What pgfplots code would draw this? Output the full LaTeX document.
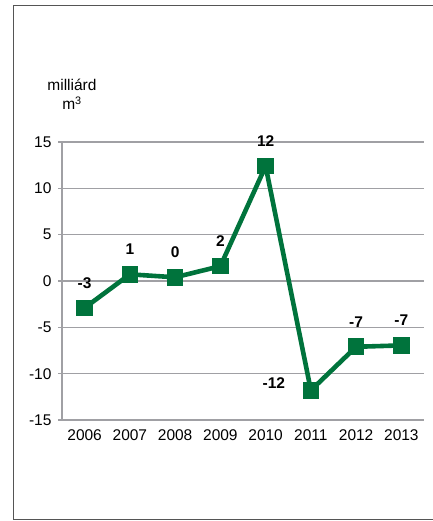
\documentclass[border=0pt]{standalone}
\usepackage{fontspec}
\setmainfont{Liberation Sans}
\usepackage{pgfplots}
\pgfplotsset{compat=1.18}
\definecolor{lgreen}{RGB}{0,115,60}
\definecolor{gridgray}{RGB}{160,160,164}
\definecolor{framegray}{RGB}{85,85,85}
\begin{document}
\begin{tikzpicture}
\useasboundingbox (0,0) rectangle (433bp,521bp);
\draw[framegray, line width=1.5bp] (433bp,515.5bp) -- (13.5bp,515.5bp) -- (13.5bp,1.5bp) -- (433bp,1.5bp);
\node[font=\fontsize{15.5bp}{17bp}\selectfont, anchor=center] at (72bp,436bp) {milliárd};
\node[font=\fontsize{15.5bp}{17bp}\selectfont, anchor=center] at (72bp,418bp) {m\textsuperscript{3}};
\begin{axis}[
  at={(62bp,101bp)}, anchor=south west,
  scale only axis, width=362bp, height=278bp,
  xmin=-0.5, xmax=7.5, ymin=-15, ymax=15,
  xtick={0,...,7},
  xticklabels={2006,2007,2008,2009,2010,2011,2012,2013},
  ytick={-15,-10,...,15},
  axis x line*=bottom,
  axis y line*=left,
  x axis line style={draw=none},
  xtick style={draw=none},
  y axis line style={gridgray, line width=1.4bp, -},
  ymajorgrids,
  major grid style={gridgray, line width=1.4bp},
  ytick style={gridgray, line width=1.4bp},
  tick align=outside,
  major tick length=4bp,
  ticklabel style={font=\fontsize{15.5bp}{17bp}\selectfont, text=black},
  /pgf/number format/assume math mode=true,
  yticklabel style={xshift=-3bp},
  xticklabel style={yshift=-2bp},
  clip=false,
]
\addplot[lgreen, line width=4.6bp, mark=square*, mark size=6bp, mark options={solid}] coordinates {
(0,-2.9) (1,0.72) (2,0.4) (3,1.6) (4,12.4) (5,-11.8) (6,-7.1) (7,-6.95)
};
\addplot[draw=none, point meta=explicit symbolic, nodes near coords,
  every node near coord/.append style={anchor=center, yshift=25bp, font=\fontsize{15.5bp}{17bp}\selectfont\bfseries, text=black}]
coordinates {
(0,-2.9) [-3] (1,0.72) [1] (2,0.4) [0] (3,1.6) [2] (4,12.4) [12] (6,-7.1) [-7] (7,-6.95) [-7]
};
\addplot[draw=none, point meta=explicit symbolic, nodes near coords,
  every node near coord/.append style={anchor=center, xshift=-37bp, yshift=7bp, font=\fontsize{15.5bp}{17bp}\selectfont\bfseries, text=black}]
coordinates {(5,-11.8) [-12]};
\end{axis}
\end{tikzpicture}
\end{document}
